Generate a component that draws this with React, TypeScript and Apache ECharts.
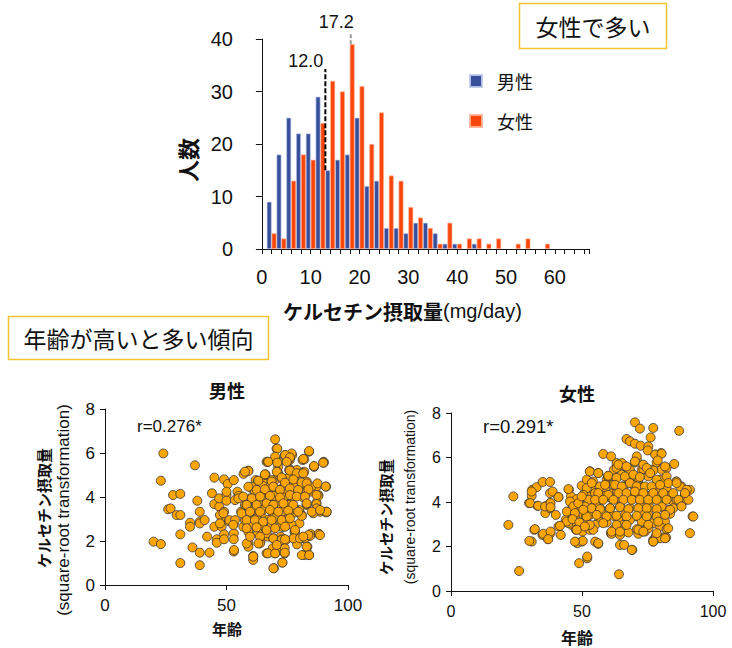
import { useEffect, useRef } from 'react';
import * as echarts from 'echarts';

// ---------- Histogram data ----------
const binCenters = [2, 4, 6, 8, 10, 12, 14, 16, 18, 20, 22, 24, 26, 28, 30, 32, 34, 36, 38, 40, 42, 44, 46, 48, 50, 52, 54, 56, 58];
const maleCounts = [9, 18, 25, 22, 22, 29, 15, 17, 18, 25, 12, 13, 4, 4, 3, 5, 5, 3, 1, 1, 0, 1, 0, 0, 0, 0, 0, 0, 0];
const femaleCounts = [3, 2, 13, 18, 17, 24, 32, 30, 39, 31, 20, 26, 14, 13, 8, 6, 4, 1, 5, 1, 2, 2, 1, 2, 0, 1, 2, 0, 1];
const seriesNames = ['男性', '女性'];
const histXLabels = [0, 10, 20, 30, 40, 50, 60];
const histXTicks = [0, 2, 4, 6, 8, 10, 12, 14, 16, 18, 20, 22, 24, 26, 28, 30, 32, 34, 36, 38, 40, 42, 44, 46, 48, 50, 52, 54, 56, 58, 60, 62, 64, 66, 67];
const medianMale = { label: '12.0', x: 13.0, from: 15, to: 34.3 };
const medianFemale = { label: '17.2', x: 18.2, from: 39, to: 41.3 };

// ---------- Scatter data: [age, sqrt(quercetin)] ----------
const malePoints: number[][] = [
  [24, 5.98], [23, 4.74], [20, 1.97], [23, 1.86], [26, 3.44], [27, 3.48], [28, 4.09], [31, 4.14], [29.5, 3.18], [31, 3.18],
  [31, 2.3], [31, 1.0], [37, 5.44], [35, 2.83], [35, 2.65], [36, 1.71], [38, 3.83], [39, 3.33], [39, 2.88], [39, 2.8],
  [39, 1.47], [39, 0.9], [41, 2.95], [42, 2.2], [43, 1.47], [44, 4.17], [45, 4.88], [45, 2.65], [45, 3.68], [47, 3.56],
  [47, 3.94], [48, 3.06], [48, 2.65], [46, 2.08], [46, 1.92], [49, 4.8], [49, 3.33], [50, 4.09], [50.5, 4.59], [50, 3.83],
  [51, 2.9], [49, 2.3], [49, 2.08], [53, 4.77], [53, 2.8], [53, 2.35], [53, 2.08], [53, 1.52], [54.5, 4.24], [55, 4.05],
  [53.5, 3.86], [56, 3.33], [57, 5.05], [59, 5.2], [57.6, 3.64], [58, 2.65], [59, 1.89], [59, 1.74], [60, 4.42], [60.4, 3.33],
  [61, 2.95], [61, 2.77], [61, 1.32], [61, 1.14], [62, 4.77], [63, 4.32], [62, 3.74], [63.5, 2.65], [64, 2.35], [64, 1.97],
  [65, 4.77], [66.5, 5.6], [66, 5.0], [66, 4.17], [66, 3.56], [65, 3.03], [66.5, 2.88], [67, 2.2], [66.5, 1.44], [68, 4.47],
  [68, 3.41], [68.5, 2.65], [68, 3.79], [69, 4.0], [69, 3.1], [69, 1.67], [69.5, 0.76], [70, 6.62], [70.6, 6.2], [71, 5.6],
  [71.3, 5.38], [71.3, 5.05], [70, 4.77], [70.4, 4.24], [70.6, 3.86], [70, 1.44], [72, 3.48], [72, 2.95], [72.3, 2.2], [73, 1.02],
  [73.6, 4.47], [74, 4.0], [74.5, 5.86], [74.8, 4.77], [74, 3.1], [73.4, 2.65], [74.5, 2.05], [74, 1.44], [75, 4.85], [76, 5.68],
  [76, 5.26], [76.4, 4.32], [76.8, 3.71], [76, 3.26], [77, 5.9], [77.5, 4.62], [77.8, 4.0], [78, 3.29], [78, 2.42], [79, 2.05],
  [79, 5.23], [79.6, 4.32], [80, 3.41], [80, 2.8], [81, 3.18], [81.3, 5.68], [82, 5.15], [82.3, 4.32], [82.7, 4.5], [83, 3.64],
  [82, 1.36], [82.3, 2.12], [83.3, 1.74], [84, 6.06], [84.4, 4.24], [84.6, 2.32], [84, 1.36], [85.7, 3.29], [86, 5.38], [87, 4.47],
  [87.8, 4.09], [88.5, 3.33], [88, 2.32], [90, 5.6], [91, 4.47], [91, 3.3], [87, 3.74],
  [54.9, 3.94], [50, 4.24], [47.3, 3.18], [47.3, 2.8], [48.7, 3.26], [51.2, 2.95], [53.5, 2.95], [52.8, 2.73], [56.9, 2.65], [53.1, 1.59],
  [70.9, 6.2], [84, 6.09], [74, 5.9], [76.8, 5.98], [76.1, 5.76], [82, 5.71], [90, 5.56], [71.3, 5.6], [67, 5.6], [86, 5.38],
  [71, 5.15], [75.8, 5.23], [59, 5.18], [66, 5.03], [72.7, 4.85], [81, 5.08], [63, 4.74], [68.6, 4.77], [78, 4.8], [83, 4.7],
  [90.8, 4.48], [60.4, 4.47], [65, 4.5], [68, 4.47], [74, 4.55], [77.5, 4.5], [85, 4.47], [61.7, 4.24], [66.5, 4.24], [70.7, 4.32],
  [75.4, 4.24], [80.2, 4.29], [83, 4.24], [59.7, 3.94], [64.5, 3.98], [69.3, 4.05], [73.4, 3.98], [77.5, 3.98], [81.6, 3.98], [87.8, 4.05],
  [58.3, 3.64], [63, 3.71], [68, 3.64], [71.3, 3.71], [75.4, 3.64], [83, 3.68], [87, 3.68], [61, 3.41], [65, 3.41], [69.3, 3.48],
  [72.7, 3.33], [78.2, 3.44], [85.7, 3.26], [91.2, 3.33], [57.6, 2.95], [62.4, 3.03], [67.2, 2.95], [70.6, 3.1], [74.8, 2.98], [81, 3.14],
  [60.4, 2.65], [64.5, 2.73], [68.6, 2.73], [72.7, 2.65], [76.8, 2.73], [59, 2.42], [63, 2.35], [66.5, 2.35], [78.2, 2.42], [88, 2.32],
  [69.3, 2.12], [72.7, 2.08], [82.3, 2.12], [84.4, 2.23], [58.3, 1.89], [63.8, 1.89], [71.3, 1.74], [74, 1.67], [79, 1.85], [83, 1.74],
  [61, 1.29], [67, 1.44], [70, 1.44], [74, 1.47], [81, 1.36], [84, 1.36], [73, 1.02], [69.3, 0.76]
];
const malePointsDense: number[][] = [
  [70, 5.83], [74.1, 5.91], [76.1, 5.8], [81.6, 5.73], [67.2, 5.6], [70.9, 5.56], [74.8, 5.6], [86, 5.41], [89.8, 5.56], [57.6, 5.15],
  [65.8, 5.03], [70.7, 5.15], [76.1, 5.2], [78.9, 5.08], [81.6, 5.08], [72.7, 4.89], [63.1, 4.74], [68.6, 4.7], [74.1, 4.65], [77.5, 4.8],
  [80.9, 4.65], [83, 4.62], [87.4, 4.62], [59, 4.47], [62.4, 4.32], [65.8, 4.35], [69.3, 4.47], [72, 4.32], [76.1, 4.39], [79.5, 4.32],
  [83.7, 4.35], [87.1, 4.09], [56.9, 4.02], [60.4, 3.94], [63.8, 4.02], [67.9, 4.05], [72, 3.98], [76.1, 4.09], [78.9, 4.02], [82.3, 4.02],
  [58.3, 3.64], [62.4, 3.64], [66.5, 3.71], [69.3, 3.64], [73.4, 3.71], [77.5, 3.64], [83, 3.71], [87.1, 3.48], [91.2, 3.33], [56.2, 3.26],
  [59.7, 3.33], [63.8, 3.33], [67.9, 3.41], [71.3, 3.33], [75.4, 3.38], [79.5, 3.33], [85.1, 3.33], [88.5, 3.41], [58.3, 2.95], [61.7, 2.95],
  [65.1, 2.88], [68.6, 2.95], [72.7, 2.95], [76.1, 3.03], [58.3, 2.58], [62.4, 2.62], [66.5, 2.5], [70, 2.58], [74.1, 2.65], [78.2, 2.5],
  [83.7, 2.27], [88.5, 2.27], [59.7, 2.2], [63.8, 2.2], [69.3, 2.12], [72.7, 2.05], [77.5, 2.12], [80.2, 2.12], [81.6, 2.2], [63.1, 1.89],
  [70.7, 1.82], [74.1, 2.08]
];

const femalePoints: number[][] = [
  [21.9, 2.97], [23.8, 4.25], [26, 0.9], [29.8, 3.95], [30.8, 2.22], [31, 4.55], [30.8, 4.28], [31.8, 2.75], [32.7, 4.67], [33, 3.83],
  [35, 4.9], [34.9, 2.52], [36, 3.8], [36, 3.5], [37, 2.33], [37.8, 4.9], [37.8, 4.4], [37.8, 3.95], [37.8, 3.72], [38, 2.6],
  [38.8, 4.47], [40, 3.42], [41, 4.22], [41, 2.9], [41.9, 2.52], [45, 4.55], [45, 3.27], [45.8, 4.25], [44.8, 3.57], [46, 2.97],
  [46.7, 3.95], [47.3, 3.87], [47.7, 3.05], [47.7, 2.75], [48.2, 2.15], [48.2, 3.77], [48.9, 1.25], [49.9, 4.73], [49.6, 3.87],
  [48, 4.13], [43.8, 3.2], [44.8, 3.05], [47.3, 3.35], [46, 3.65], [48.6, 3.65],
  [50.5, 3.42], [50.8, 3.05], [50.2, 2.67], [49.9, 2.22], [51.8, 5.0], [52, 4.55], [52.4, 4.25], [51.8, 3.8], [51.5, 3.35], [52, 1.47],
  [53, 5.38], [53.7, 4.7], [53, 2.75], [54, 4.1], [56.2, 5.3], [56.6, 3.2], [56.9, 3.72], [58.1, 4.25], [58.8, 4.55], [59.4, 5.0],
  [59.9, 5.15], [61, 2.6], [61.7, 4.4], [62, 4.85], [62.2, 5.45], [63.2, 5.75], [63.9, 2.67], [64.5, 2.07], [65.1, 3.2], [65.8, 4.55],
  [66, 5.63], [67.7, 5.0], [67.7, 4.25], [70.9, 5.9], [71.5, 5.0], [72.8, 5.45], [73.4, 3.5], [74, 2.67], [76.6, 5.45], [77.2, 2.3],
  [78.5, 2.45], [80.4, 5.45], [81.7, 2.45], [83, 4.17], [85.9, 4.92], [88, 4.7], [89.3, 4.32], [89.7, 4.1], [91.2, 4.55], [92.2, 3.35],
  [83.6, 3.65], [84.9, 4.02], [81.7, 3.65],
  [70.2, 7.58], [72.1, 7.3], [77.2, 7.33], [87.1, 7.2], [67, 6.83], [68.3, 6.73], [70.2, 6.62], [72.4, 6.53], [75.3, 6.5], [76.2, 6.9],
  [75.1, 6.32], [58.1, 6.16], [61.1, 6.05], [70.9, 6.05], [78.2, 6.13], [80.2, 6.2], [65.2, 5.75], [70.2, 5.78], [78.5, 5.78], [85.2, 5.71],
  [53, 5.37], [56.2, 5.3], [63.2, 5.53], [68.3, 5.45], [73.4, 5.48], [77.2, 5.42], [82.3, 5.53], [54.3, 4.92], [60, 5.15], [65.2, 5.23],
  [71.5, 5.03], [75.3, 5.15], [79.8, 5.0], [86.1, 4.92], [51.8, 4.62], [56.9, 4.7], [61.9, 4.77], [65.8, 4.7], [69.6, 4.77], [73.4, 4.67],
  [77.9, 4.7], [82.3, 4.62], [87.4, 4.7], [50.5, 4.32], [55, 4.4], [58.8, 4.28], [63.2, 4.4], [67, 4.32], [70.9, 4.4], [74.7, 4.28],
  [79.1, 4.4], [83.6, 4.28], [90, 4.55], [52.4, 4.1], [56.9, 4.1], [61.3, 4.17], [65.2, 4.07], [69, 4.13], [72.8, 4.07], [76.6, 4.1],
  [81, 4.13], [86.1, 4.1], [51.1, 3.8], [55.6, 3.8], [60.7, 3.72], [64.5, 3.8], [68.3, 3.72], [72.1, 3.8], [76, 3.72], [80.4, 3.8],
  [84.8, 3.72], [90.6, 4.1], [53, 3.42], [57.5, 3.5], [62, 3.38], [66.4, 3.42], [70.9, 3.35], [75.3, 3.42], [78.5, 3.35], [83.6, 3.47],
  [50.5, 3.05], [55, 2.97], [59.4, 3.08], [63.9, 3.2], [68.3, 3.2], [72.8, 3.12], [77.2, 3.05], [81.7, 3.12], [54.3, 2.75], [62, 2.75],
  [65.8, 2.97], [70.9, 2.78], [75.3, 2.82], [79.8, 2.9], [82.3, 2.78], [61.3, 2.57], [64.5, 2.52], [67.7, 2.63], [71.5, 2.57], [72.8, 2.7],
  [78.2, 2.48], [79.8, 2.37], [82.1, 2.4], [77.2, 2.22], [50.3, 2.25], [55, 2.22], [56.2, 2.12], [66.1, 2.07], [52, 1.55], [69.2, 1.85],
  [64.1, 0.75], [91.2, 2.6]
];
const femalePointsDense: number[][] = [
  [60, 5.18], [63.9, 5.68], [67, 5.6], [70.2, 5.82], [73.4, 5.68], [74.7, 5.53], [77.9, 6.13], [80.4, 6.17], [78.9, 5.87], [81.7, 5.6],
  [63.2, 5.08], [66.4, 5.15], [69.6, 5.23], [72.1, 5.12], [76, 5.3], [78.5, 5.0], [82.3, 5.15], [82.9, 4.85], [86.1, 4.85], [53.7, 4.85],
  [58.8, 4.77], [62.6, 4.77], [65.2, 4.7], [68.3, 4.85], [70.9, 4.7], [74, 4.7], [76.6, 4.7], [79.8, 4.77], [56.2, 4.4], [60, 4.32],
  [63.9, 4.4], [67, 4.4], [70.2, 4.47], [73.4, 4.4], [77.2, 4.4], [81, 4.4], [84.8, 4.4], [89.3, 4.4], [55, 4.1], [58.1, 4.1],
  [62, 4.1], [65.8, 4.1], [69, 4.1], [72.1, 4.1], [75.3, 4.1], [78.5, 4.1], [82.3, 4.1], [86.8, 4.1], [53.7, 3.72], [56.9, 3.68],
  [60.7, 3.72], [64.5, 3.77], [67.7, 3.68], [71.5, 3.72], [74.7, 3.72], [78.5, 3.68], [83.6, 3.65], [88, 3.8], [92.5, 3.35], [51.8, 3.35],
  [55.6, 3.42], [59.4, 3.35], [63.2, 3.38], [67, 3.35], [70.9, 3.38], [74.7, 3.35], [78.5, 3.35], [81.7, 3.42], [53, 2.97], [58.1, 3.05],
  [63.2, 2.97], [67, 2.97], [71.5, 2.75], [75.3, 2.97], [79.1, 3.12], [82.9, 2.82], [61.3, 2.67], [64.5, 2.67], [73.4, 2.67], [78.5, 2.6],
  [81.7, 2.37], [77.2, 2.22], [56.2, 2.15], [69, 1.85],
  [30.8, 4.47], [41, 4.22], [44.8, 4.58], [30.2, 3.95], [33.3, 3.83], [35.9, 3.8], [38, 3.95], [38, 3.77], [45.4, 4.02], [46.7, 3.8],
  [48.6, 3.95], [49.9, 4.25], [44.2, 3.57], [47.3, 3.5], [50.5, 3.65], [44.2, 3.12], [46.4, 3.23], [49, 3.08], [41.6, 2.93], [32, 2.78],
  [35.2, 2.57], [38, 2.67], [48, 2.75], [51.1, 2.9], [29.9, 2.25], [37.1, 2.33], [47.3, 2.22]
];
const rMale = 'r=0.276*';
const rFemale = 'r=0.291*';

const JP = '"Noto Sans CJK JP", "Liberation Sans", sans-serif';
const LAT = '"Liberation Sans", "Noto Sans CJK JP", sans-serif';
const BLUE = '#38509b';
const RED = '#fa460a';
const TXT = '#111';

export default function App() {
  const ref = useRef<HTMLDivElement>(null);
  useEffect(() => {
    if (!ref.current) return;
    const chart = echarts.init(ref.current, null, { renderer: 'svg' });

    const scatterX = (gi: number, fs: number) => ({
      type: 'value', gridIndex: gi, min: 0, max: 100, interval: 50,
      axisLine: { lineStyle: { color: '#111', width: 1 } },
      axisTick: { show: true, length: 5, lineStyle: { color: '#111' } },
      axisLabel: { fontSize: fs, color: TXT, fontFamily: LAT, margin: 12 },
      splitLine: { show: false },
    });
    const scatterY = (gi: number, fs: number) => ({
      type: 'value', gridIndex: gi, min: 0, max: 8, interval: 2,
      axisLine: { show: true, lineStyle: { color: '#111', width: 1 } },
      axisTick: { show: true, length: 5, lineStyle: { color: '#111' } },
      axisLabel: { fontSize: fs, color: TXT, fontFamily: LAT, margin: 10 },
      splitLine: { show: false },
    });
    const dot = { color: '#ffa500', borderColor: '#333', borderWidth: 0.8, opacity: 1 };

    chart.setOption({
      animation: false,
      backgroundColor: '#fff',
      grid: [
        { left: 257, top: 39, width: 332, height: 210 },
        { left: 105, top: 409, width: 243, height: 176 },
        { left: 451, top: 413, width: 262, height: 178 },
      ],
      legend: {
        data: seriesNames, orient: 'vertical', left: 469, top: 72, padding: 0,
        itemWidth: 12, itemHeight: 12, itemGap: 22, icon: 'rect', selectedMode: false,
        textStyle: { fontSize: 18, color: TXT, fontFamily: JP, padding: [0, 0, 0, 10] },
      },
      xAxis: [
        {
          type: 'value', gridIndex: 0, min: -1, max: 67,
          axisLine: { lineStyle: { color: '#111', width: 1 } },
          axisTick: { show: true, length: 5, customValues: histXTicks, lineStyle: { color: '#111' } },
          axisLabel: { fontSize: 20, color: TXT, fontFamily: LAT, margin: 18, customValues: histXLabels },
          splitLine: { show: false },
        },
        scatterX(1, 17),
        scatterX(2, 16),
      ],
      yAxis: [
        {
          type: 'value', gridIndex: 0, min: 0, max: 40, interval: 10,
          axisLine: { show: true, lineStyle: { color: '#111', width: 1 } },
          axisTick: { show: true, length: 6, lineStyle: { color: '#111' } },
          axisLabel: { fontSize: 20, color: TXT, fontFamily: LAT, margin: 24 },
          splitLine: { show: false },
        },
        scatterY(1, 17),
        scatterY(2, 16),
      ],
      series: [
        {
          name: seriesNames[0], type: 'bar', xAxisIndex: 0, yAxisIndex: 0,
          barGap: '0%', barCategoryGap: '0%',
          itemStyle: { color: BLUE, borderColor: 'rgba(190,200,235,0.9)', borderWidth: 0.7 },
          data: binCenters.map((x, i) => [x, maleCounts[i] || null]),
        },
        {
          name: seriesNames[1], type: 'bar', xAxisIndex: 0, yAxisIndex: 0,
          barGap: '0%', barCategoryGap: '0%',
          itemStyle: { color: RED, borderColor: 'rgba(255,175,150,0.9)', borderWidth: 0.7 },
          data: binCenters.map((x, i) => [x, femaleCounts[i] || null]),
        },
        {
          type: 'scatter', xAxisIndex: 1, yAxisIndex: 1, symbolSize: 9, itemStyle: dot,
          data: malePoints.concat(malePointsDense),
        },
        {
          type: 'scatter', xAxisIndex: 2, yAxisIndex: 2, symbolSize: 9, itemStyle: dot,
          data: femalePoints.concat(femalePointsDense),
        },
      ],
    });

    const px = (x: number, y: number) => chart.convertToPixel({ gridIndex: 0 }, [x, y]) as number[];
    const mA = px(medianMale.x, medianMale.from);
    const mB = px(medianMale.x, medianMale.to);
    const fA = px(medianFemale.x, medianFemale.from);
    const fB = px(medianFemale.x, medianFemale.to);

    const text = (t: string, x: number, y: number, fs: number, opts: any = {}) => ({
      type: 'text', x, y, z: 20, rotation: opts.rotation || 0,
      style: {
        text: t, fontSize: fs, fontFamily: opts.family || JP, fontWeight: opts.bold ? 'bold' : 'normal',
        fill: TXT, align: opts.align || 'center', verticalAlign: 'middle',
      },
    });

    chart.setOption({
      graphic: [
        { type: 'line', z: 20, shape: { x1: mA[0], y1: mA[1], x2: mB[0], y2: mB[1] }, style: { stroke: '#000', lineWidth: 2, lineDash: [5, 2] } },
        { type: 'line', z: 20, shape: { x1: fA[0], y1: fA[1], x2: fB[0], y2: fB[1] }, style: { stroke: '#999', lineWidth: 2, lineDash: [4, 2] } },
        text(medianMale.label, mB[0] - 2, mB[1] - 8, 18, { align: 'right', family: LAT }),
        text(medianFemale.label, fB[0] + 3, fB[1] - 10, 18, { align: 'right', family: LAT }),
        { type: 'rect', z: 20, shape: { x: 519.5, y: 3.5, width: 147, height: 45 }, style: { fill: '#fff', stroke: '#f7c234', lineWidth: 1.5 } },
        text('女性で多い', 593, 26, 23),
        { type: 'rect', z: 20, shape: { x: 8.5, y: 316.5, width: 260, height: 43 }, style: { fill: '#fff', stroke: '#f7c234', lineWidth: 1.5 } },
        text('年齢が高いと多い傾向', 138.5, 338, 23),
        text('人数', 187, 160, 22, { bold: true, rotation: Math.PI / 2 }),
        {
          type: 'text', x: 283, y: 311, z: 20,
          style: {
            text: '{b|ケルセチン摂取量}{n|(mg/day)}', align: 'left', verticalAlign: 'middle', fill: TXT,
            rich: {
              b: { fontSize: 20, fontWeight: 'bold', fontFamily: JP, fill: TXT },
              n: { fontSize: 20, fontFamily: LAT, fill: TXT },
            },
          },
        },
        text('男性', 227, 390, 18, { bold: true }),
        text('女性', 577, 393, 18, { bold: true }),
        text(rMale, 137, 426, 17, { align: 'left', family: LAT }),
        text(rFemale, 483, 426, 18.5, { align: 'left', family: LAT }),
        text('ケルセチン摂取量', 43, 508, 15, { bold: true, rotation: Math.PI / 2 }),
        text('(square-root transformation)', 63, 510, 17, { rotation: Math.PI / 2, family: LAT }),
        text('ケルセチン摂取量', 385, 517, 14.5, { bold: true, rotation: Math.PI / 2 }),
        text('(square-root transformation)', 410, 497, 14, { rotation: Math.PI / 2, family: LAT }),
        text('年齢', 227, 628, 15, { bold: true }),
        text('年齢', 577, 637, 16, { bold: true }),
      ],
    });

    return () => chart.dispose();
  }, []);

  return <div ref={ref} style={{ position: 'absolute', left: 0, top: 0, width: 732, height: 648 }} />;
}
